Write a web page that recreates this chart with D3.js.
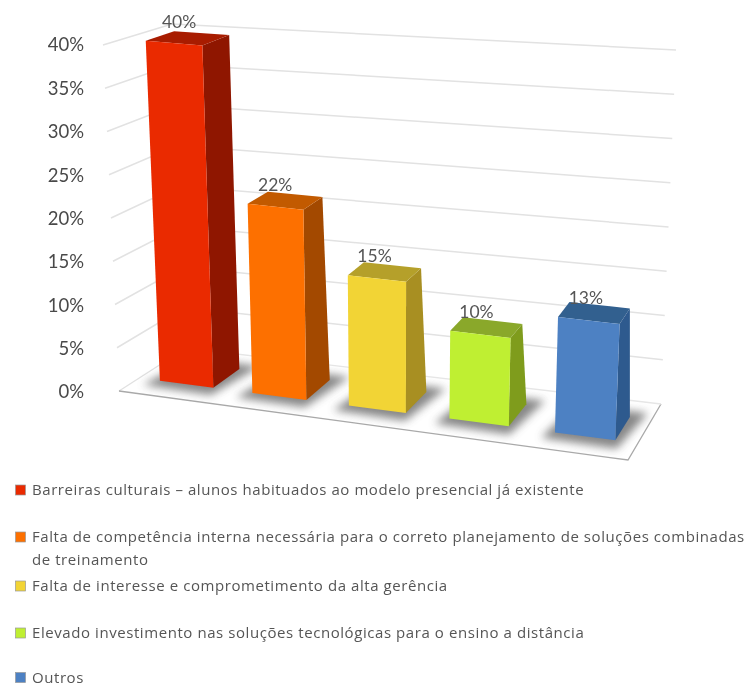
<!DOCTYPE html>
<html><head><meta charset="utf-8">
<style>html,body{margin:0;padding:0;background:#fff}svg{display:block}text{font-family:Lato,"Open Sans",sans-serif}</style>
<script src="https://cdn.jsdelivr.net/npm/d3@7/dist/d3.min.js"></script>
</head><body><svg id="c" width="748" height="687"></svg>
<script>
const categories = [
  "Barreiras culturais – alunos habituados ao modelo presencial já existente",
  "Falta de competência interna necessária para o correto planejamento de soluções combinadas\nde treinamento",
  "Falta de interesse e comprometimento da alta gerência",
  "Elevado investimento nas soluções tecnológicas para o ensino a distância",
  "Outros"
];
const values = [40, 22, 15, 10, 13];
const ticks = [0, 5, 10, 15, 20, 25, 30, 35, 40];
const frontColors = ["#ea2a03", "#fd7000", "#f2d435", "#bfef33", "#4d81c3"];
const sideColors = ["#8f1800", "#a34a00", "#a88f22", "#7f9c1f", "#2f5a8e"];
const topColors = ["#a81c00", "#c25a00", "#b5a02a", "#8aa82a", "#33608f"];

const svg = d3.select("#c");
const defs = svg.append("defs");
defs.append("filter").attr("id","soft").attr("x","-5%").attr("y","-5%").attr("width","110%").attr("height","110%")
  .append("feGaussianBlur").attr("stdDeviation",0.5);
defs.append("filter").attr("id","shadow").attr("x","-40%").attr("y","-40%").attr("width","180%").attr("height","180%")
  .append("feGaussianBlur").attr("stdDeviation",4);

const root = svg.append("g").attr("filter","url(#soft)");

const cube = {
  bottom: {f0:[119,391], f1:[628,460], b1:[661,404], b0:[186,348]},
  top:    {f0:[103,45],  f1:[642,100], b1:[676,50],  b0:[172,24]}
};
const yAxisScale = d3.scaleLinear().domain([0,40]).range([392,45]);
const vFrac = d3.scaleLinear().domain([0,40]).range([0,1]);
const lerp = (a,b,t)=>[a[0]+(b[0]-a[0])*t, a[1]+(b[1]-a[1])*t];
function plane(p,u,d){ return lerp(lerp(p.f0,p.f1,u), lerp(p.b0,p.b1,u), d); }
function project(u,d,v){ return lerp(plane(cube.bottom,u,d), plane(cube.top,u,d), vFrac(v)); }
const poly = pts => "M"+pts.map(p=>p.join(",")).join("L")+"Z";
const seg = pts => "M"+pts.map(p=>p.join(",")).join("L");

root.append("g").selectAll("path").data(ticks.slice(1)).join("path")
  .attr("d",v=>seg([project(0,0,v),project(0,1,v),project(1,1,v)]))
  .attr("fill","none").attr("stroke","#e2e2e2").attr("stroke-width",1.5);
root.append("path").attr("d",poly([[0,0],[1,0],[1,1],[0,1]].map(q=>project(q[0],q[1],0))))
  .attr("fill","#fff").attr("stroke","none");
root.append("path").attr("d",seg([project(0,1,0),project(0,0,0)])).attr("fill","none").attr("stroke","#e0e0e0").attr("stroke-width",1.3);
root.append("path").attr("d",seg([project(1,1,0),project(1,0,0),project(0,0,0)])).attr("fill","none").attr("stroke","#a9a9a9").attr("stroke-width",1.3);
root.append("path").attr("d",seg([project(0,1,0),project(1,1,0)])).attr("fill","none").attr("stroke","#e6e6e6").attr("stroke-width",1.3);

const band = d3.scaleBand().domain(d3.range(values.length)).range([0,1]).paddingInner(0.43).paddingOuter(0.215);
const warp = d3.scaleLinear().domain([0,.1,.3,.5,.7,.9,1]).range([0,.097,.279,.477,.68,.895,1]);
const dFront = 0.3, dBack = 0.72;
const dTop = d3.scaleLinear().domain([10,40]).range([0.58,0.72]);
const labelDx = d3.scaleLinear().domain([13,40]).range([-3,5]);
const bars = root.append("g").selectAll("g").data(values).join("g");
bars.each(function(v,i){
  const g = d3.select(this);
  const u0 = warp(band(i)), u1 = warp(band(i)+band.bandwidth());
  const P = project, dT = dTop(v);
  g.append("path").attr("d",poly([P(u0-0.018,dFront-0.12,0),P(u1+0.012,dFront-0.14,0),P(u1+0.03,dBack+0.1,0),P(u0,dBack+0.1,0)]))
    .attr("fill","#5a5a5a").attr("opacity",0.72).attr("filter","url(#shadow)");
  g.append("path").attr("d",poly([P(u1,dFront,0),P(u1,dBack,0),P(u1,dT,v),P(u1,dFront,v)])).attr("fill",sideColors[i]);
  g.append("path").attr("d",poly([P(u0,dFront,v),P(u1,dFront,v),P(u1,dT,v),P(u0,dT,v)])).attr("fill",topColors[i]);
  g.append("path").attr("d",poly([P(u0,dFront,0),P(u1,dFront,0),P(u1,dFront,v),P(u0,dFront,v)])).attr("fill",frontColors[i]);
  const fl = P(u0,dFront,v), ft = lerp(fl,P(u1,dFront,v),0.5);
  g.append("text").attr("x",ft[0]+labelDx(v)).attr("y",fl[1]-13).attr("text-anchor","middle")
    .attr("font-size",17.5).attr("fill","#555").text(v+"%");
});

const axis = root.append("g").attr("transform","translate(89,0)")
  .call(d3.axisLeft(yAxisScale).tickValues(ticks).tickFormat(d=>d+"%").tickSize(0).tickPadding(5));
axis.select(".domain").remove();
axis.selectAll("text").attr("font-size",18.5).attr("fill","#4a4a4a").style("font-family","Lato,'Open Sans',sans-serif");

const legendRows = [490,537,586,633,677.5];
const legend = root.append("g").selectAll("g").data(categories).join("g")
  .attr("transform",(d,i)=>`translate(0,${legendRows[i]})`);
legend.append("rect").attr("x",15.5).attr("y",-5).attr("width",10).attr("height",10)
  .attr("fill",(d,i)=>frontColors[i]).attr("stroke","#999").attr("stroke-width",0.7);
legend.each(function(d){
  const g=d3.select(this);
  d.split("\n").forEach((line,k)=>{
    g.append("text").attr("x",32).attr("y",5+k*23).attr("font-size",15).attr("letter-spacing",0.57).attr("fill","#555")
      .style("font-family","'Open Sans',Lato,sans-serif").text(line);
  });
});
</script></body></html>
